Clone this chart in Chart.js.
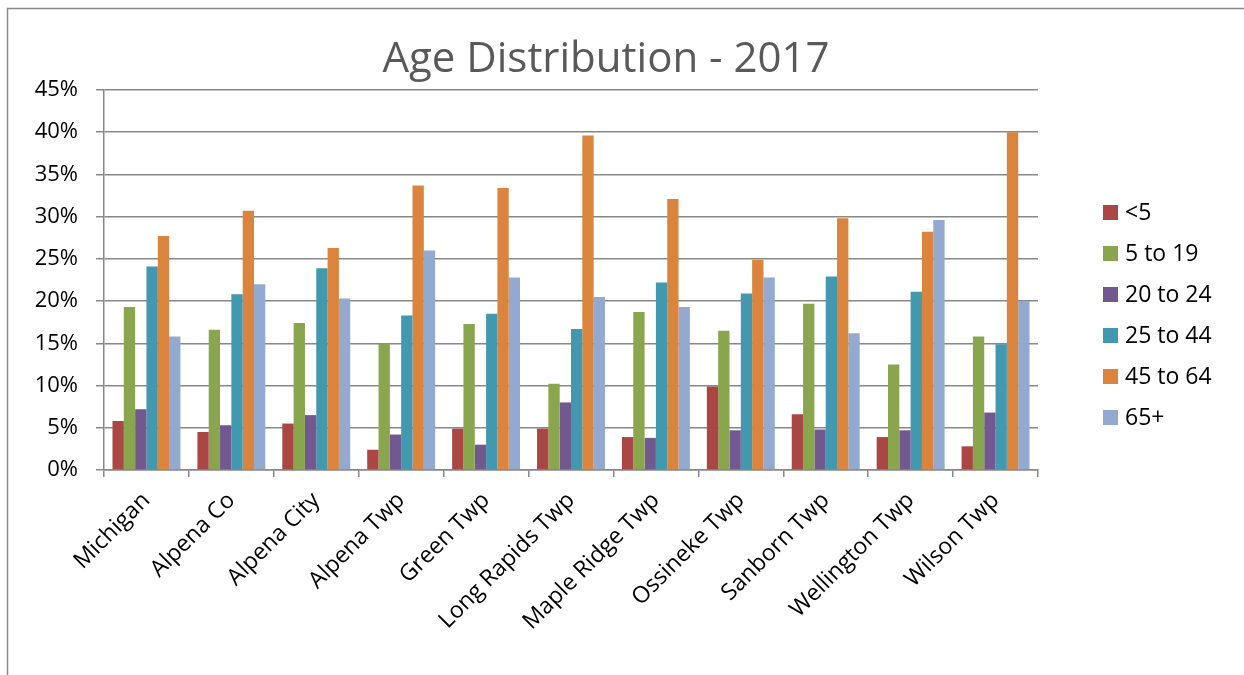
<!DOCTYPE html>
<html>
<head>
<meta charset="utf-8">
<script src="https://cdn.jsdelivr.net/npm/chart.js@4/dist/chart.umd.min.js"></script>
<style>
  html, body { margin: 0; padding: 0; background: #fff; overflow: hidden; }
  #wrap { position: relative; width: 1244px; height: 675px; }
</style>
</head>
<body>
<div id="wrap"><canvas id="c" width="1244" height="675"></canvas></div>
<script>
// Places compared
const categories = ['Michigan', 'Alpena Co', 'Alpena City', 'Alpena Twp', 'Green Twp',
  'Long Rapids Twp', 'Maple Ridge Twp', 'Ossineke Twp', 'Sanborn Twp', 'Wellington Twp', 'Wilson Twp'];

// Share of population by age group (%)
const under5     = [5.8, 4.5, 5.5, 2.4, 4.9, 4.9, 3.9, 9.9, 6.6, 3.9, 2.8];
const age5to19   = [19.3, 16.6, 17.4, 15.0, 17.3, 10.2, 18.7, 16.5, 19.7, 12.5, 15.8];
const age20to24  = [7.2, 5.3, 6.5, 4.2, 3.0, 8.0, 3.8, 4.7, 4.8, 4.7, 6.8];
const age25to44  = [24.1, 20.8, 23.9, 18.3, 18.5, 16.7, 22.2, 20.9, 22.9, 21.1, 14.9];
const age45to64  = [27.7, 30.7, 26.3, 33.7, 33.4, 39.6, 32.1, 24.9, 29.8, 28.2, 40.0];
const age65plus  = [15.8, 22.0, 20.3, 26.0, 22.8, 20.5, 19.3, 22.8, 16.2, 29.6, 20.0];

const seriesNames = ['<5', '5 to 19', '20 to 24', '25 to 44', '45 to 64', '65+'];
const seriesColors = ['#AA4643', '#89A54E', '#71588F', '#4198AF', '#DB843D', '#93A9CF'];
const seriesValues = [under5, age5to19, age20to24, age25to44, age45to64, age65plus];

const yTicks = [0, 5, 10, 15, 20, 25, 30, 35, 40, 45];
const chartTitle = 'Age Distribution - 2017';

const FONT = "'Open Sans', 'DejaVu Sans', sans-serif";
const GRID = '#888888';

// Frame, title and right-hand legend painted on the chart canvas
const decorations = {
  id: 'decorations',
  beforeDraw(chart) {
    const ctx = chart.ctx;
    ctx.save();
    ctx.fillStyle = '#ffffff';
    ctx.fillRect(0, 0, chart.width, chart.height);
    ctx.strokeStyle = '#8a8a8a';
    ctx.lineWidth = 1.5;
    ctx.strokeRect(7.5, 8.5, chart.width + 20, chart.height + 20);
    ctx.restore();
  },
  afterDraw(chart) {
    const ctx = chart.ctx;
    ctx.save();
    ctx.fillStyle = '#595959';
    ctx.font = '42px ' + FONT;
    ctx.textAlign = 'center';
    ctx.textBaseline = 'alphabetic';
    ctx.fillText(chartTitle, 606, 72);

    ctx.font = '23px ' + FONT;
    ctx.textAlign = 'left';
    ctx.textBaseline = 'middle';
    chart.data.datasets.forEach((ds, i) => {
      const cy = 212.5 + i * 41;
      ctx.fillStyle = ds.backgroundColor;
      ctx.fillRect(1103, cy - 7.5, 15, 15);
      ctx.fillStyle = '#000000';
      ctx.fillText(ds.label, 1125, cy + 1);
    });
    ctx.restore();
  }
};

new Chart(document.getElementById('c'), {
  type: 'bar',
  data: {
    labels: categories,
    datasets: seriesNames.map((name, i) => ({
      label: name,
      data: seriesValues[i],
      backgroundColor: seriesColors[i],
      borderWidth: 0,
      barPercentage: 1.0,
      categoryPercentage: 0.8
    }))
  },
  options: {
    responsive: false,
    animation: false,
    layout: { padding: { top: 90, right: 206, left: 0, bottom: 0 } },
    plugins: {
      legend: { display: false },
      title: { display: false },
      tooltip: { enabled: false }
    },
    scales: {
      x: {
        grid: {
          display: true,
          drawOnChartArea: false,
          drawTicks: true,
          tickLength: 7,
          color: GRID,
          lineWidth: 1.5,
          offset: true
        },
        border: { display: true, color: GRID, width: 1.5 },
        ticks: {
          color: '#000000',
          font: { family: FONT, size: 23 },
          maxRotation: 45,
          minRotation: 45,
          padding: 10,
          autoSkip: false
        },
        afterFit(scale) { scale.height = 205; }
      },
      y: {
        min: 0,
        max: 45,
        afterBuildTicks(scale) { scale.ticks = yTicks.map(v => ({ value: v })); },
        grid: {
          color: GRID,
          lineWidth: 1.5,
          drawTicks: true,
          tickLength: 8
        },
        border: { display: true, color: GRID, width: 1.5 },
        ticks: {
          color: '#000000',
          font: { family: FONT, size: 22 },
          padding: 18,
          callback: v => v + '%'
        },
        afterFit(scale) { scale.width = 104; }
      }
    }
  },
  plugins: [decorations]
});
</script>
</body>
</html>
